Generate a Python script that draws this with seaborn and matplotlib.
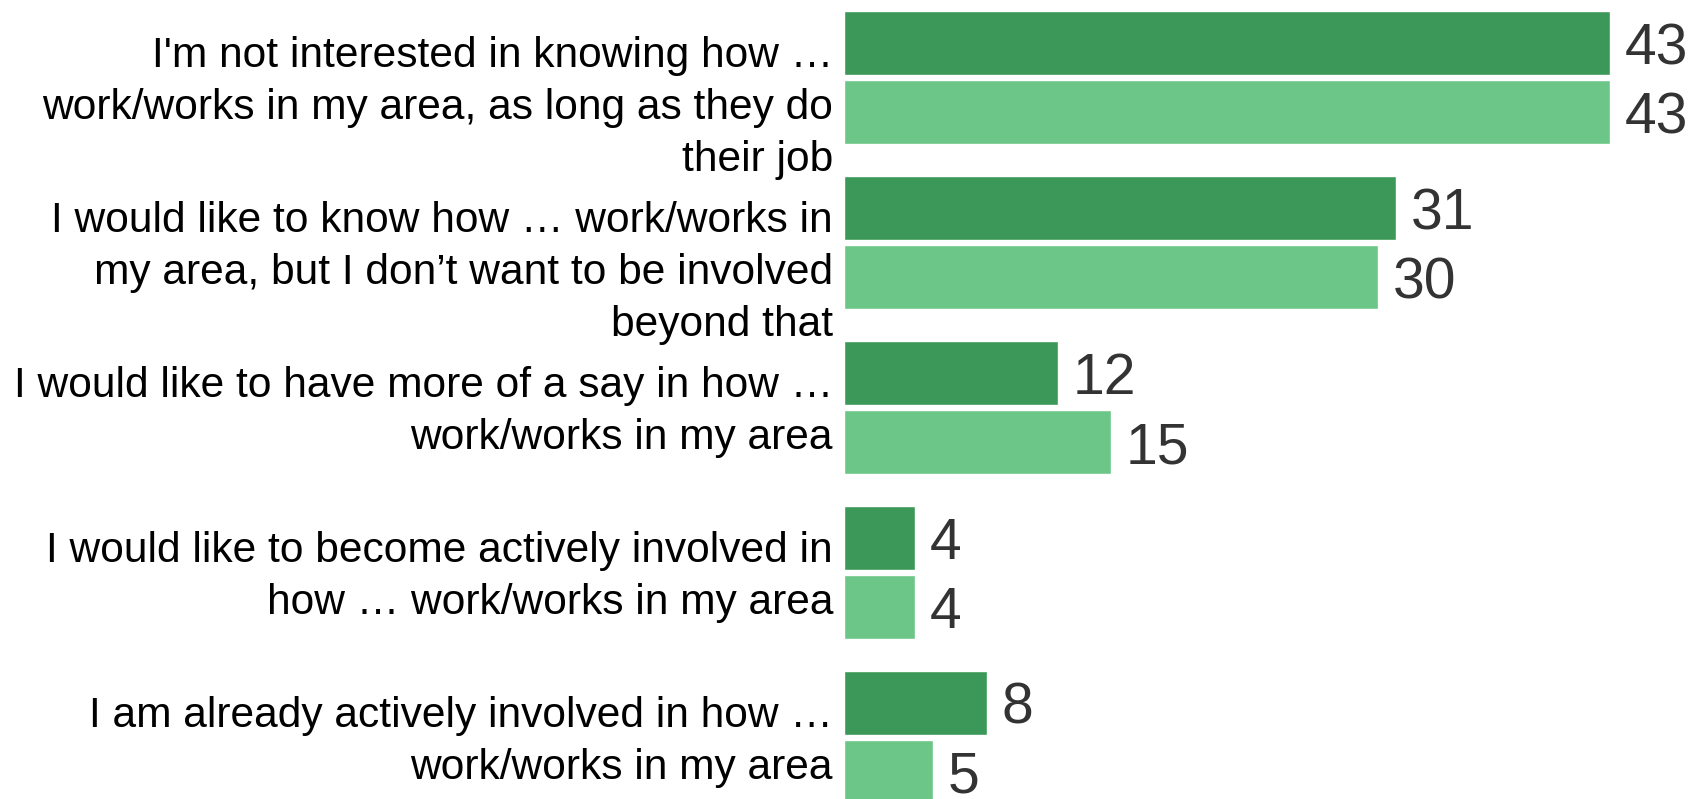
import matplotlib
matplotlib.use("Agg")
import matplotlib.pyplot as plt
import seaborn as sns
import pandas as pd

# Survey answers (category labels, wrapped as displayed)
categories = [
    "I'm not interested in knowing how \u2026\nwork/works in my area, as long as they do\ntheir job",
    "I would like to know how \u2026 work/works in\nmy area, but I don\u2019t want to be involved\nbeyond that",
    "I would like to have more of a say in how \u2026\nwork/works in my area",
    "I would like to become actively involved in\nhow \u2026 work/works in my area",
    "I am already actively involved in how \u2026\nwork/works in my area",
]
series_names = ["First", "Second"]
values_first = [43, 31, 12, 4, 8]
values_second = [43, 30, 15, 4, 5]

colors = ["#3c9858", "#6cc687"]

rows = []
for cat, a, b in zip(categories, values_first, values_second):
    rows.append({"category": cat, "series": series_names[0], "value": a})
    rows.append({"category": cat, "series": series_names[1], "value": b})
df = pd.DataFrame(rows)

sns.set_style("white")
plt.rcParams["font.family"] = ["Liberation Sans", "DejaVu Sans"]

fig = plt.figure(figsize=(16.92, 7.99), dpi=100)
ax = fig.add_axes([844 / 1692, 0, 1 - 844 / 1692, 1])

sns.barplot(
    data=df, y="category", x="value", hue="series",
    order=categories, hue_order=series_names,
    palette=colors, saturation=1, orient="h",
    width=0.837, gap=0.0725, legend=False, ax=ax,
)

ax.set_xlim(0, 47.6)
ax.set_ylim(4.3735, -0.4704)
for s in ax.spines.values():
    s.set_visible(False)
ax.set_xticks([])
ax.set_yticks([])
ax.set_xlabel("")
ax.set_ylabel("")

# value labels at the end of each bar
for cont in ax.containers:
    texts = ax.bar_label(cont, fmt="%d", padding=10.5, fontsize=41, color="#333333")
    for t in texts:
        t.set_va("center_baseline")

# category labels, right-aligned to the left of the bars,
# first line sitting just above the group's centre
for i, cat in enumerate(categories):
    ax.annotate(
        cat, xy=(0, i), xycoords=("axes fraction", "data"),
        xytext=(-7.9, 30.0), textcoords="offset points",
        ha="right", va="top", fontsize=30.6, color="black",
        linespacing=1.39, annotation_clip=False,
    )

fig.savefig("out.png", dpi=100)
